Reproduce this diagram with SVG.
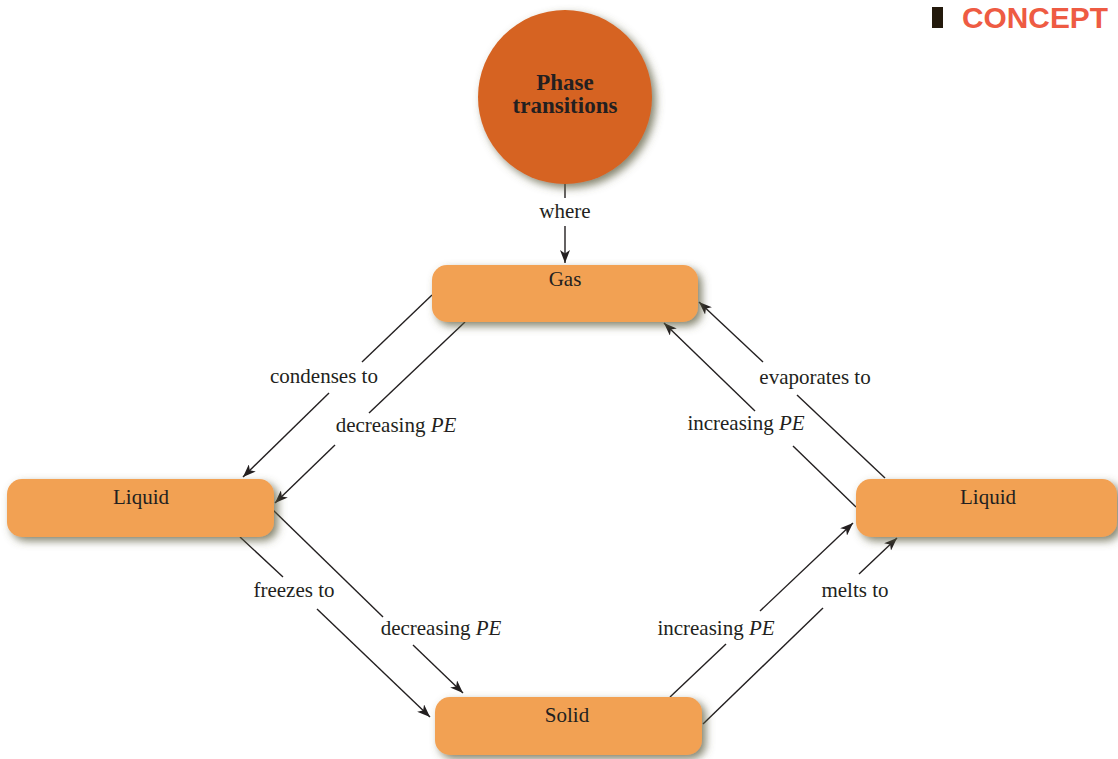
<svg xmlns="http://www.w3.org/2000/svg" width="1118" height="759" viewBox="0 0 1118 759">
  <defs>
    <filter id="shadow" x="-20%" y="-40%" width="140%" height="190%">
      <feGaussianBlur in="SourceAlpha" stdDeviation="4"/>
      <feOffset dx="4" dy="4" result="blur"/>
      <feFlood flood-color="#5c5c3e" flood-opacity="0.75"/>
      <feComposite in2="blur" operator="in"/>
      <feMerge>
        <feMergeNode/>
        <feMergeNode in="SourceGraphic"/>
      </feMerge>
    </filter>
    <marker id="arrow" markerUnits="userSpaceOnUse" markerWidth="14" markerHeight="10" refX="13" refY="5" orient="auto">
      <path d="M0,0 L13,5 L0,10 L3.5,5 Z" fill="#231f20"/>
    </marker>
    <style>
      .node { fill: #f2a153; filter: url(#shadow); }
      .hub { fill: #d66420; filter: url(#shadow); }
      .label { font-family: "Liberation Serif", "Times New Roman", serif; font-size: 21px; fill: #231f20; text-anchor: middle; }
      .title { font-family: "Liberation Serif", "Times New Roman", serif; font-size: 23px; font-weight: bold; fill: #231f20; text-anchor: middle; }
      .link { stroke: #231f20; stroke-width: 1.4; fill: none; }
      .head { marker-end: url(#arrow); }
      .pe { font-style: italic; }
    </style>
  </defs>

  <rect width="1118" height="759" fill="#ffffff"/>

  <!-- header tag -->
  <g id="header">
    <rect x="932" y="7" width="11" height="21" fill="#231a0c"/>
    <text x="1108" y="28" font-family="'Liberation Sans', Arial, sans-serif" font-size="29" font-weight="bold" fill="#ee5b43" text-anchor="end" textLength="146" lengthAdjust="spacingAndGlyphs">CONCEPT</text>
  </g>

  <!-- connectors -->
  <g id="connectors">
    <!-- Phase transitions -> Gas -->
    <line class="link" x1="565" y1="184" x2="565" y2="198"/>
    <line class="link head" x1="565" y1="226" x2="565" y2="263"/>
    <text class="label" x="565" y="218">where</text>

    <!-- Gas -> Liquid (left) -->
    <line class="link" x1="432" y1="295" x2="362" y2="362"/>
    <line class="link head" x1="329" y1="393" x2="243" y2="477"/>
    <text class="label" x="324" y="383">condenses to</text>

    <line class="link" x1="465" y1="322" x2="369" y2="413"/>
    <line class="link head" x1="335" y1="445" x2="275" y2="503"/>
    <text class="label" x="396" y="432">decreasing <tspan class="pe">PE</tspan></text>

    <!-- Liquid (right) -> Gas -->
    <line class="link" x1="885" y1="478" x2="797" y2="395"/>
    <line class="link head" x1="763" y1="362" x2="699" y2="302"/>
    <text class="label" x="815" y="384">evaporates to</text>

    <line class="link" x1="856" y1="507" x2="793" y2="446"/>
    <line class="link head" x1="755" y1="411" x2="664" y2="323"/>
    <text class="label" x="746" y="430">increasing <tspan class="pe">PE</tspan></text>

    <!-- Liquid (left) -> Solid -->
    <line class="link" x1="240" y1="537" x2="283" y2="577"/>
    <line class="link head" x1="317" y1="609" x2="430" y2="717"/>
    <text class="label" x="294" y="597">freezes to</text>

    <line class="link" x1="273" y1="510" x2="383" y2="617"/>
    <line class="link head" x1="413" y1="645" x2="463" y2="693"/>
    <text class="label" x="441" y="635">decreasing <tspan class="pe">PE</tspan></text>

    <!-- Solid -> Liquid (right) -->
    <line class="link" x1="670" y1="697" x2="726" y2="644"/>
    <line class="link head" x1="760" y1="611" x2="853" y2="523"/>
    <text class="label" x="716" y="635">increasing <tspan class="pe">PE</tspan></text>

    <line class="link" x1="703" y1="724" x2="823" y2="608"/>
    <line class="link head" x1="859" y1="574" x2="897" y2="538"/>
    <text class="label" x="855" y="597">melts to</text>
  </g>

  <!-- nodes -->
  <g id="phase-transitions">
    <circle class="hub" cx="565" cy="97" r="87"/>
    <text class="title" x="565" y="90">Phase</text>
    <text class="title" x="565" y="113">transitions</text>
  </g>

  <g id="gas">
    <rect class="node" x="432" y="265" width="266" height="57" rx="15"/>
    <text class="label" x="565" y="286">Gas</text>
  </g>

  <g id="liquid-left">
    <rect class="node" x="7" y="479" width="267" height="58" rx="15"/>
    <text class="label" x="141" y="504">Liquid</text>
  </g>

  <g id="liquid-right">
    <rect class="node" x="856" y="479" width="261" height="58" rx="15"/>
    <text class="label" x="988" y="504">Liquid</text>
  </g>

  <g id="solid">
    <rect class="node" x="435" y="697" width="267" height="58" rx="15"/>
    <text class="label" x="567" y="722">Solid</text>
  </g>
</svg>
